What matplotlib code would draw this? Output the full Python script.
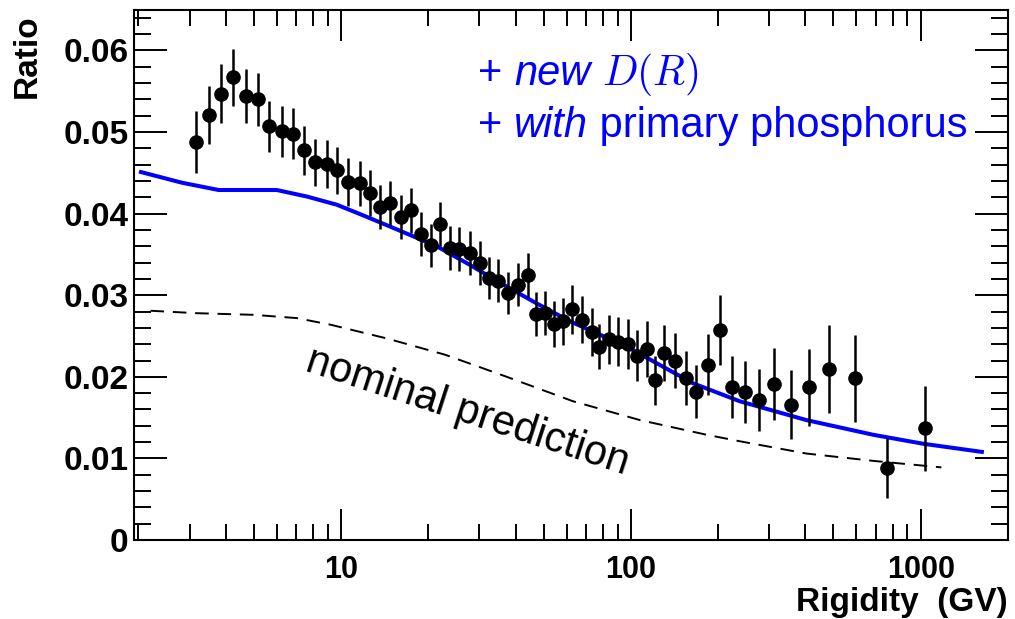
import matplotlib
matplotlib.use("Agg")
import matplotlib.pyplot as plt
from matplotlib.ticker import LogLocator, MultipleLocator, NullFormatter, FixedLocator, FixedFormatter
from matplotlib.offsetbox import TextArea, HPacker, VPacker, AnchoredOffsetbox

# measured ratio vs rigidity
rigidity = [3.15, 3.50, 3.85, 4.24, 4.69, 5.17, 5.66, 6.23, 6.85, 7.47,
            8.15, 8.93, 9.71, 10.6, 11.6, 12.6, 13.6, 14.8, 16.1, 17.4,
            18.9, 20.4, 22.0, 23.8, 25.6, 27.9, 30.2, 32.5, 34.9, 37.8,
            40.9, 44.0, 46.9, 50.5, 54.4, 58.5, 62.8, 67.8, 73.2, 77.8,
            84.0, 90.4, 97.4, 104.7, 113.3, 121, 130, 141.6, 155, 167.6,
            183.8, 202.7, 223.5, 246.6, 276.6, 311.7, 356, 410, 483, 592,
            762, 1032]
ratio = [0.0488, 0.0521, 0.0547, 0.0567, 0.0544, 0.0540, 0.0507, 0.0501, 0.0498, 0.0478,
         0.0463, 0.0461, 0.0453, 0.0439, 0.0437, 0.0425, 0.0408, 0.0413, 0.0396, 0.0404,
         0.0375, 0.0361, 0.0387, 0.0358, 0.0357, 0.0352, 0.0339, 0.0321, 0.0318, 0.0303,
         0.0313, 0.0325, 0.0277, 0.0278, 0.0265, 0.0268, 0.0283, 0.0270, 0.0255, 0.0237,
         0.0246, 0.0243, 0.0240, 0.0226, 0.0234, 0.0196, 0.0229, 0.0220, 0.0199, 0.0182,
         0.0215, 0.0257, 0.0188, 0.0182, 0.0171, 0.0191, 0.0166, 0.0187, 0.0210, 0.0198,
         0.0088, 0.0137]
ratio_err = [0.0038, 0.0036, 0.0036, 0.0035, 0.0033, 0.0033, 0.0031, 0.0031, 0.0031, 0.0030,
             0.0029, 0.0029, 0.0029, 0.0029, 0.0028, 0.0028, 0.0027, 0.0027, 0.0027, 0.0028,
             0.0027, 0.0026, 0.0027, 0.0027, 0.0027, 0.0027, 0.0027, 0.0026, 0.0026, 0.0026,
             0.0026, 0.0027, 0.0027, 0.0027, 0.0028, 0.0029, 0.0030, 0.0029, 0.0029, 0.0028,
             0.0030, 0.0030, 0.0031, 0.0031, 0.0034, 0.0030, 0.0034, 0.0034, 0.0033, 0.0032,
             0.0037, 0.0043, 0.0038, 0.0038, 0.0038, 0.0044, 0.0042, 0.0047, 0.0054, 0.0053,
             0.0037, 0.0052]

# model with new D(R) and primary phosphorus
model_R = [2.04, 2.82, 3.78, 6.0, 7.62, 9.66, 11.9, 14.8, 21.4, 27.9,
           36.3, 47.3, 61.7, 96.7, 164, 237.7, 403, 685, 1018, 1625]
model_ratio = [0.0451, 0.0438, 0.0429, 0.0429, 0.0421, 0.0411, 0.0398, 0.0384, 0.0360, 0.0337,
               0.0313, 0.0290, 0.0268, 0.0237, 0.0192, 0.0170, 0.0147, 0.0129, 0.0118, 0.0108]

# nominal prediction
nominal_R = [2.2, 3.18, 4.99, 7.03, 9.17, 14.4, 22.9, 37.3, 63.2, 107.4,
             182.4, 237.7, 403, 685, 1178]
nominal_ratio = [0.0281, 0.0278, 0.0276, 0.0272, 0.0264, 0.0247, 0.0227, 0.0200, 0.0170, 0.0147,
                 0.0129, 0.0121, 0.0106, 0.0097, 0.0089]

xticks = [10, 100, 1000]
xtick_labels = ["10", "100", "1000"]
yticks = [0, 0.01, 0.02, 0.03, 0.04, 0.05, 0.06]
ytick_labels = ["0", "0.01", "0.02", "0.03", "0.04", "0.05", "0.06"]

plt.rcParams["font.family"] = ["Liberation Sans", "DejaVu Sans"]
W, H = 1015, 619
fig = plt.figure(figsize=(W / 100, H / 100), dpi=100)
ax = fig.add_axes([134 / W, 1 - 540 / H, (1008 - 134) / W, (540 - 9.7) / H])

blue = "#0000ff"
ax.plot(nominal_R, nominal_ratio, color="black", lw=1.4, dashes=(7, 4.5))
ax.plot(model_R, model_ratio, color=blue, lw=2.9)
ax.errorbar(rigidity, ratio, yerr=ratio_err, fmt="o", color="black", ms=9.5,
            elinewidth=1.8, capsize=0, zorder=5)

ax.set_xscale("log")
ax.set_xlim(1.93, 2000)
ax.set_ylim(0, 0.065)

ax.xaxis.set_major_locator(FixedLocator(xticks))
ax.xaxis.set_major_formatter(FixedFormatter(xtick_labels))
ax.xaxis.set_minor_locator(LogLocator(base=10, subs=range(2, 10)))
ax.xaxis.set_minor_formatter(NullFormatter())
ax.yaxis.set_major_locator(FixedLocator(yticks))
ax.yaxis.set_major_formatter(FixedFormatter(ytick_labels))
ax.yaxis.set_minor_locator(MultipleLocator(0.002))

for side in ax.spines.values():
    side.set_linewidth(1.5)
ax.tick_params(which="both", direction="in", top=True, right=True, width=1.4)
ax.tick_params(axis="x", which="major", length=22, pad=11, labelsize=22)
ax.tick_params(axis="x", which="minor", length=11.5)
ax.tick_params(axis="y", which="major", length=23.5, pad=4, labelsize=24)
ax.tick_params(axis="y", which="minor", length=12)
for lab in ax.get_xticklabels() + ax.get_yticklabels():
    lab.set_fontweight("bold")

fig.text(1008 / W, 1 - 603 / H, "Rigidity  (GV)", ha="right", va="center",
         fontsize=24, fontweight="bold")
fig.text(27 / W, 1 - 14 / H, "Ratio", rotation=90, ha="center", va="top",
         fontsize=24, fontweight="bold")

fig.text(468 / W, 1 - 412 / H, "nominal prediction", rotation=-18, ha="center",
         va="center", fontsize=30)

# two-line annotation with mixed italic / math pieces
plain = dict(color=blue, fontsize=30)
ital = dict(color=blue, fontsize=30, style="italic")
line1 = HPacker(children=[TextArea("+ ", textprops=plain),
                          TextArea("new", textprops=ital),
                          TextArea(" ", textprops=plain),
                          TextArea("$D(R)$", textprops=dict(color=blue, fontsize=30,
                                                            math_fontfamily="cm"))],
                align="baseline", pad=0, sep=0)
line2 = HPacker(children=[TextArea("+ ", textprops=plain),
                          TextArea("with", textprops=ital),
                          TextArea(" primary phosphorus", textprops=plain)],
                align="baseline", pad=0, sep=0)
block = VPacker(children=[line1, line2], align="left", pad=0, sep=6)
anch = AnchoredOffsetbox(loc="upper left", child=block, pad=0, borderpad=0, frameon=False,
                         bbox_to_anchor=(478 / W, 1 - 51 / H), bbox_transform=fig.transFigure)
ax.add_artist(anch)

fig.savefig("out.png", dpi=100)
